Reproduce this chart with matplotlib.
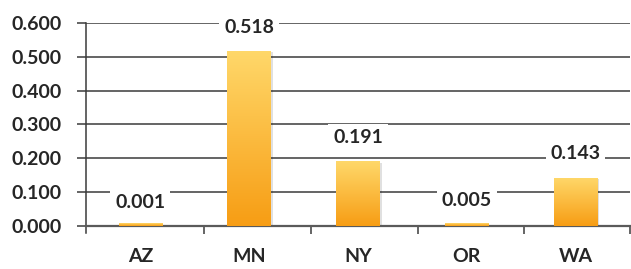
import numpy as np
import matplotlib.pyplot as plt
from matplotlib.colors import LinearSegmentedColormap

# data
states = ['AZ', 'MN', 'NY', 'OR', 'WA']
values = [0.001, 0.518, 0.191, 0.005, 0.143]
yticks = [0.0, 0.1, 0.2, 0.3, 0.4, 0.5, 0.6]

plt.rcParams['font.family'] = ['Lato', 'DejaVu Sans']
txt = '#262626'
grid = '#3a3a3a'
fs = 14

fig = plt.figure(figsize=(6.31, 2.69), dpi=100)
ax = fig.add_axes([0.1363, 0.16, 0.862, 0.7546])

x = np.arange(len(states))
bw = 0.4
minh = 0.008  # tiny bars still show a sliver, as in the reference

# faint shadow under each bar
ax.bar(x + 0.02, np.maximum(values, minh), bw, bottom=-0.004, color='#000000', alpha=0.12, zorder=2)
bars = ax.bar(x, values, bw, color='#f9a825', zorder=3)

# vertical gradient (light yellow on top, orange at bottom) clipped to each bar
cmap = LinearSegmentedColormap.from_list('g', ['#f79d14', '#ffd86a'])
grad = np.linspace(0, 1, 256).reshape(-1, 1)
for b in bars:
    bx, by = b.get_x(), b.get_y()
    w, h = b.get_width(), b.get_height()
    im = ax.imshow(grad, cmap=cmap, origin='lower', aspect='auto',
                   extent=[bx, bx + w, by, by + max(h, minh)], zorder=4)
    if h >= minh:
        im.set_clip_path(b)

for xi, v in zip(x, values):
    ax.annotate(f'{v:.3f}', (xi, v), xytext=(0, 17), textcoords='offset points',
                ha='center', va='center', fontsize=fs, fontweight='bold', color=txt,
                bbox=dict(boxstyle='square,pad=0.25', fc='white', ec='none'), zorder=5)

ax.set_xlim(-0.5, len(states) - 0.5)
ax.set_ylim(0, 0.6)
ax.set_yticks(yticks)
ax.set_yticklabels([f'{t:.3f}' for t in yticks], fontsize=fs, fontweight='bold', color=txt)
ax.yaxis.grid(True, color=grid, lw=1.1, zorder=1)
ax.set_axisbelow(True)

ax.set_xticks(x)
ax.set_xticklabels(states, fontsize=fs, fontweight='bold', color=txt)
ax.tick_params(axis='x', length=0, pad=16)
ax.set_xticks([0.585, 1.57, 2.55, 3.53, 4.5], minor=True)
ax.tick_params(axis='x', which='minor', length=6, width=1.1, color=grid)
ax.tick_params(axis='y', length=6.5, width=1.1, color=grid, pad=11)

for s in ['top', 'right']:
    ax.spines[s].set_visible(False)
ax.spines['left'].set_color(grid)
ax.spines['left'].set_linewidth(1.1)
ax.spines['left'].set_bounds(-0.022, 0.6)
ax.spines['bottom'].set_color('#5a5a5a')
ax.spines['bottom'].set_linewidth(1.6)

fig.savefig('out.png', dpi=100)
